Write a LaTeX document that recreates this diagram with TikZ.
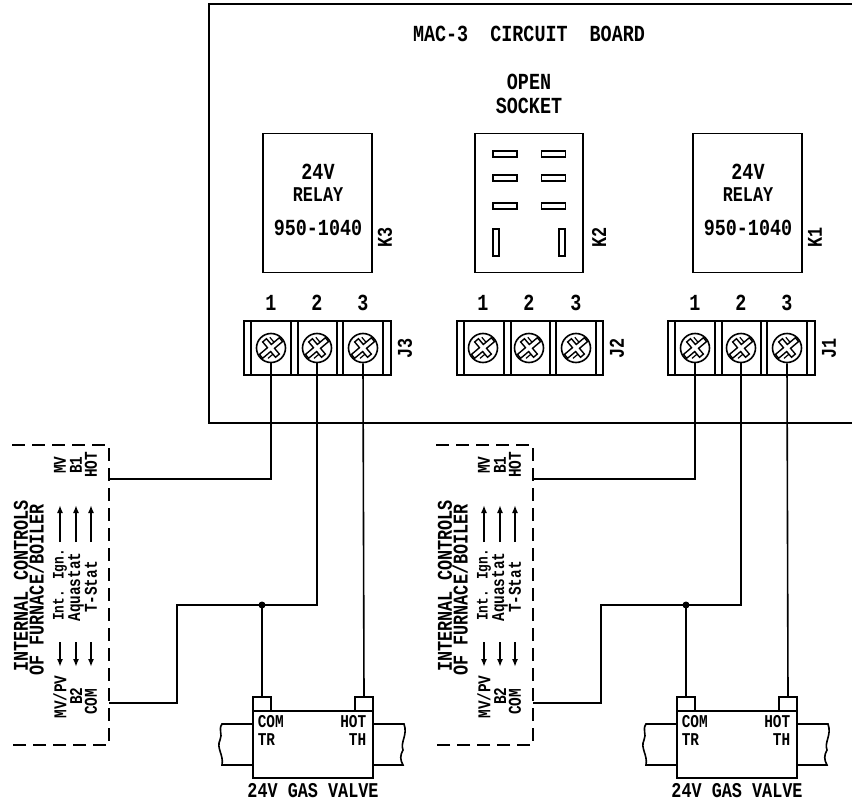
\documentclass[tikz,border=0pt]{standalone}
\usepackage{fontspec}
\setmainfont[FakeStretch=.8]{Liberation Mono}
\usetikzlibrary{arrows.meta}
\tikzset{
    big/.style={font=\fontsize{23}{23}\selectfont\bfseries,inner sep=0pt},
    txt/.style={font=\fontsize{21}{21}\selectfont\bfseries,inner sep=0pt},
    small/.style={font=\fontsize{18}{18}\selectfont\bfseries,inner sep=0pt},
    tiny/.style={font=\fontsize{16}{16}\selectfont\bfseries,inner sep=0pt},
    up/.style={rotate=90},
    screw/.style={circle,draw,line width=1.6pt,minimum size=29pt,inner sep=0pt},
    term/.style={draw,line width=1.6pt,minimum width=18pt,minimum height=14pt,inner sep=0pt},
    slot/.style={draw,line width=1.6pt,inner sep=0pt}
}
% slotted screw head, centred on #1
\newcommand{\screwcross}[1]{
    \draw [shift={(#1,348)},rotate=40,line width=1.4pt] (-13,-2.5) -- (-2.5,-2.5) -- (-2.5,-10) -- (2.5,-10) -- (2.5,-2.5) -- (13,-2.5) -- (13,2.5) -- (2.5,2.5) -- (2.5,10) -- (-2.5,10) -- (-2.5,2.5) -- (-13,2.5) -- cycle;
    \draw [shift={(#1,348)},rotate=40,line width=1.2pt] (-9,6) -- (-2.5,6) (6,-9) -- (6,-2.5);
}
\begin{document}
\begin{tikzpicture}[x=1pt,y=-1pt,line width=1.6pt]
    \useasboundingbox (0,0) rectangle (852,803);
    % circuit board outline
    \coordinate (B1) at (852,4);
    \coordinate (B2) at (209,4);
    \coordinate (B3) at (209,423);
    \coordinate (B4) at (852,423);
    \draw (B1) -- (B2) -- (B3) -- (B4);
    \node [big] (title) at (529,34) {MAC-3\ \ CIRCUIT\ \ BOARD};
    % open socket
    \node [big] (open) at (529,82) {OPEN};
    \node [big] (socket) at (529,106) {SOCKET};
    \node [draw,minimum width=108pt,minimum height=139pt,inner sep=0pt] (K2) at (529,203) {};
    \node [txt,up] (K2lab) at (599,237) {K2};
    \foreach \y in {154,178,206} {
        \node [slot,minimum width=24pt,minimum height=6pt] at (505,\y) {};
        \node [slot,minimum width=24pt,minimum height=6pt] at (553.5,\y) {};
    }
    \node [slot,minimum width=6pt,minimum height=27pt] at (496,242.5) {};
    \node [slot,minimum width=6pt,minimum height=27pt] at (562,242.5) {};
    % terminal strip J2
    \draw (457,321) rectangle (603,375);
    \foreach \x in {464,504,511,550,556,596} \draw (\x,321) -- (\x,375);
    \foreach \n/\x in {1/483,2/529,3/576} {
        \node [big] at (\x,303) {\n};
        \node [screw] (J2-\n) at (\x,348) {};
        \screwcross{\x}
    }
    \node [txt,up] (J2lab) at (617,348) {J2};
    % the two wired circuits
    \foreach \j/\o/\r in {3/0/318,1/424/324} {
        \begin{scope}[xshift=\o pt]
            % relay
            \node [draw,minimum width=109pt,minimum height=139pt,inner sep=0pt] (K\j) at (\r-.5,203) {};
            \node [big] (V\j) at (\r,172) {24V};
            \node [txt] (R\j) at (\r,195) {RELAY};
            \node [big] (P\j) at (\r,228) {950-1040};
            \node [txt,up] (K\j lab) at (\r+67,237) {K\j};
            % terminal strip
            \draw (244,321) rectangle (391,375);
            \foreach \x in {251,291,298,337,343,383} \draw (\x,321) -- (\x,375);
            \foreach \n/\x in {1/271,2/317,3/363} {
                \node [big] at (\x,303) {\n};
                \node [screw] (J\j-\n) at (\x,348) {};
                \screwcross{\x}
            }
            \node [txt,up] (J\j lab) at (405,348) {J\j};
            % internal controls box
            \draw [dash pattern=on 13pt off 7pt] (12,445) -- (109,445) -- (109,745) -- (12,745);
            \coordinate (H\j) at (109,479);
            \coordinate (C\j) at (109,703);
            \node [txt,up] (ic\j) at (21,586) {INTERNAL CONTROLS};
            \node [txt,up] (of\j) at (36,590) {OF FURNACE/BOILER};
            \node [small,up] at (60,465) {MV};
            \node [small,up] at (76,465) {B1};
            \node [small,up] at (91,465) {HOT};
            \node [tiny,up] at (60,585) {Int. Ign.};
            \node [small,up] at (76,587) {Aquastat};
            \node [small,up] at (91,587) {T-Stat};
            \node [small,up] at (60,697) {MV/PV};
            \node [small,up] at (76,696) {B2};
            \node [small,up] at (91,702) {COM};
            \foreach \x in {60,76,91} {
                \draw [-{Latex[length=8pt,width=6pt]}] (\x,542) -- (\x,505);
                \draw [-{Latex[length=8pt,width=6pt]}] (\x,642) -- (\x,667);
            }
            % gas valve
            \node [draw,minimum width=120pt,minimum height=67pt,inner sep=0pt] (valve\j) at (313,744.5) {};
            \node [term] (TR\j) at (262,704) {};
            \node [term] (TH\j) at (364,704) {};
            \node [small,anchor=west] at (257,722) {COM};
            \node [small,anchor=west] at (257,740) {TR};
            \node [small,anchor=east] at (367,722) {HOT};
            \node [small,anchor=east] at (367,740) {TH};
            \node [txt] (gas\j) at (313,791) {24V GAS VALVE};
            \draw (253,724) -- (222,724) .. controls (218,730) and (223,734) .. (220,740) .. controls (216,748) and (224,755) .. (222,765) -- (253,765);
            \draw (373,724) -- (404,724) .. controls (408,735) and (400,742) .. (403,750) .. controls (400,755) and (400,760) .. (403,765) -- (373,765);
            % wires
            \coordinate (N\j) at (177,605);
            \coordinate (D\j) at (262,605);
            \draw (J\j-1.south) |- (H\j);
            \draw (J\j-2.south) |- (N\j) |- (C\j);
            \draw (J\j-3.south) -- (TH\j.north);
            \draw (D\j) -- (TR\j.north);
            \fill (D\j) circle (3.5);
        \end{scope}
    }
\end{tikzpicture}
\end{document}
